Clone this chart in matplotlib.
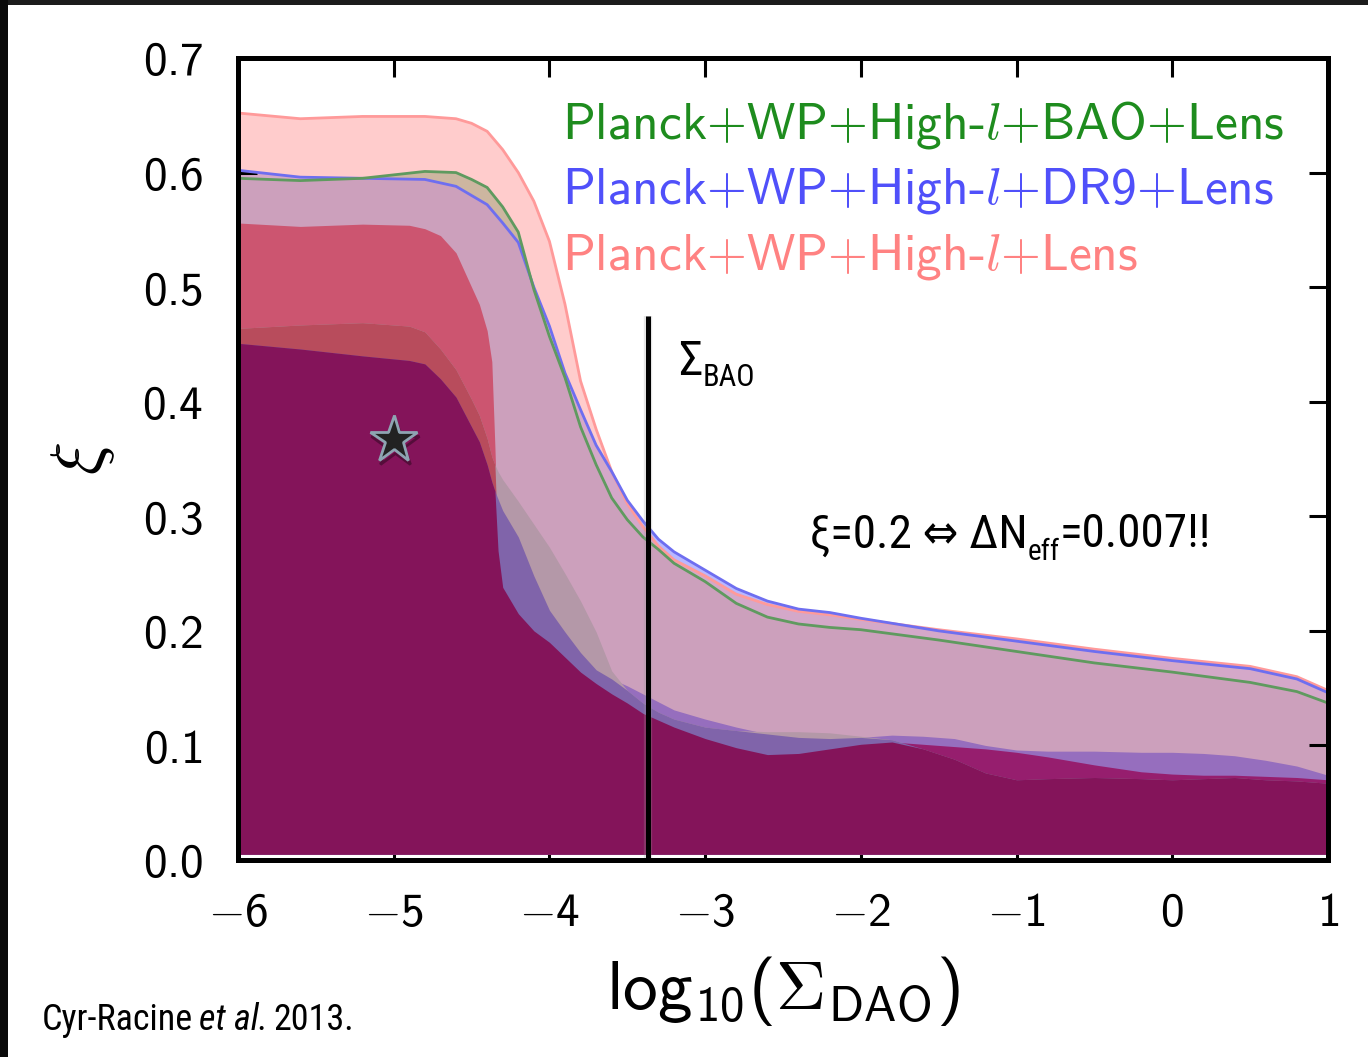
import itertools
import matplotlib
matplotlib.use("Agg")
import matplotlib.pyplot as plt
import matplotlib.patheffects as pe
from matplotlib.patches import Rectangle
from matplotlib.ticker import FuncFormatter, MultipleLocator
import numpy as np

plt.rcParams['mathtext.fontset'] = 'custom'
plt.rcParams['mathtext.rm'] = 'cmss10'
plt.rcParams['mathtext.sf'] = 'cmss10'
plt.rcParams['mathtext.it'] = 'cmmi10'
plt.rcParams['mathtext.bf'] = 'cmss10'
plt.rcParams['mathtext.default'] = 'sf'
plt.rcParams['mathtext.fallback'] = 'cm'

# outer (95%) contour upper edges
x95 = [-6.0, -5.6, -5.2, -4.8, -4.6, -4.5, -4.4, -4.3, -4.2, -4.1, -4.0, -3.9, -3.8, -3.7, -3.6, -3.5, -3.4,
       -3.3, -3.2, -3.0, -2.8, -2.6, -2.4, -2.2, -2.0, -1.5, -1.0, -0.5, 0.0, 0.5, 0.8, 1.0]
pink95 = [0.652, 0.647, 0.649, 0.649, 0.647, 0.643, 0.636, 0.620, 0.600, 0.575, 0.540, 0.485, 0.418, 0.376, 0.339,
          0.311, 0.291, 0.274, 0.262, 0.248, 0.232, 0.223, 0.217, 0.214, 0.210, 0.201, 0.193, 0.184, 0.176, 0.169,
          0.160, 0.148]
blue95 = [0.602, 0.596, 0.595, 0.594, 0.588, 0.580, 0.572, 0.556, 0.539, 0.500, 0.466, 0.425, 0.393, 0.362, 0.339,
          0.314, 0.296, 0.280, 0.269, 0.253, 0.237, 0.226, 0.219, 0.216, 0.211, 0.200, 0.191, 0.182, 0.174, 0.167,
          0.158, 0.146]
green95 = [0.595, 0.593, 0.595, 0.601, 0.600, 0.594, 0.587, 0.570, 0.548, 0.498, 0.457, 0.421, 0.378, 0.345, 0.316,
           0.297, 0.282, 0.271, 0.259, 0.243, 0.224, 0.212, 0.206, 0.203, 0.201, 0.192, 0.182, 0.172, 0.164, 0.155,
           0.147, 0.137]

# inner (68%) contour upper edges
x68 = [-6.0, -5.6, -5.2, -4.9, -4.8, -4.7, -4.6, -4.5, -4.45, -4.4, -4.37, -4.35, -4.33, -4.3, -4.2,
       -4.1, -4.0, -3.9, -3.8, -3.7, -3.6, -3.5, -3.4, -3.3, -3.2, -3.0, -2.8, -2.6, -2.4, -2.2,
       -2.0, -1.8, -1.6, -1.4, -1.2, -1.0, -0.8, -0.5, -0.2, 0.0, 0.2, 0.4, 0.6, 0.8, 1.0]
pink68 = [0.556, 0.553, 0.555, 0.554, 0.551, 0.545, 0.530, 0.500, 0.485, 0.462, 0.435, 0.360, 0.270, 0.238, 0.215,
          0.200, 0.190, 0.177, 0.164, 0.154, 0.145, 0.137, 0.128, 0.122, 0.116, 0.106, 0.098, 0.092, 0.093, 0.097,
          0.101, 0.103, 0.101, 0.099, 0.097, 0.094, 0.090, 0.083, 0.077, 0.075, 0.074, 0.074, 0.073, 0.072, 0.070]
green68 = [0.464, 0.467, 0.469, 0.466, 0.461, 0.446, 0.428, 0.402, 0.388, 0.368, 0.352, 0.345, 0.339, 0.332, 0.313,
           0.293, 0.273, 0.250, 0.226, 0.199, 0.165, 0.148, 0.137, 0.129, 0.123, 0.116, 0.113, 0.112, 0.112, 0.111,
           0.108, 0.105, 0.097, 0.088, 0.076, 0.070, 0.071, 0.072, 0.071, 0.070, 0.071, 0.072, 0.070, 0.069, 0.067]
blue68 = [0.451, 0.446, 0.440, 0.436, 0.433, 0.420, 0.404, 0.378, 0.365, 0.345, 0.330, 0.322, 0.315, 0.305, 0.282,
          0.248, 0.218, 0.199, 0.181, 0.166, 0.158, 0.152, 0.145, 0.138, 0.131, 0.123, 0.116, 0.110, 0.107, 0.106,
          0.107, 0.109, 0.108, 0.106, 0.100, 0.096, 0.095, 0.095, 0.094, 0.094, 0.093, 0.091, 0.087, 0.082, 0.074]

labels = ['Planck+WP+High-$\\mathit{l}$+BAO+Lens',
          'Planck+WP+High-$\\mathit{l}$+DR9+Lens',
          'Planck+WP+High-$\\mathit{l}$+Lens']
label_colors = ['#1e8c1e', '#5050fa', '#ff8282']
label_y = [0.630, 0.573, 0.515]

sigma_bao = -3.367
star = (-5.0, 0.367)

fig = plt.figure(figsize=(13.68, 10.57), dpi=100)
ax = fig.add_axes([238 / 1368, 1 - 860 / 1057, 1090 / 1368, 802 / 1057])


def venn_fill(x, curves, colors, base, y0=0.005):
    # every overlap of the three regions gets its own flat colour
    for k in (1, 2, 3):
        for combo in itertools.combinations(range(3), k):
            top = np.min([curves[i] for i in combo], axis=0)
            ax.fill_between(x, y0, top, color=colors[combo], lw=0, zorder=base + k * 0.1)


c95 = {(0,): '#ffcccc', (1,): '#b8b8ff', (2,): '#cce6cc',
       (0, 1): '#d4a8c9', (0, 2): '#cdb6a0', (1, 2): '#a0a0d0', (0, 1, 2): '#cca0bc'}
venn_fill(x95, [pink95, blue95, green95], c95, 1)

c68 = {(0,): '#cc5570', (1,): '#966ebe', (2,): '#b498a8',
       (0, 1): '#961e6e', (0, 2): '#b84c5c', (1, 2): '#8064aa', (0, 1, 2): '#84145a'}
venn_fill(x68, [pink68, blue68, green68], c68, 2)

ax.plot(x95, pink95, color='#ff9a9a', lw=2, zorder=3)
ax.plot(x95, blue95, color='#6e6ef0', lw=2, zorder=3)
ax.plot(x95, green95, color='#5f9a5f', lw=2, zorder=3)

ax.plot([sigma_bao, sigma_bao], [0, 0.475], color='k', lw=3.6, solid_capstyle='butt', zorder=4,
        path_effects=[pe.SimpleLineShadow(offset=(0, 0), shadow_color='#999999', alpha=0.25, linewidth=6),
                      pe.Normal()])

ax.plot(*star, marker='*', ms=36, mfc='#222222', mec='#8ea4b2', mew=2, zorder=5,
        path_effects=[pe.SimpleLineShadow(offset=(1, -3), shadow_color='k', alpha=0.35), pe.Normal()])

for lab, col, yy in zip(labels, label_colors, label_y):
    ax.text(-3.919, yy, lab, color=col, fontsize=37, family='cmss10', va='baseline', zorder=6)

narrow = dict(family=['Liberation Sans Narrow', 'Roboto Condensed', 'DejaVu Sans'], stretch='condensed')
ts = ax.text(-3.174, 0.423, 'Σ', fontsize=35, va='baseline', zorder=6, **narrow)
ax.annotate('BAO', xy=(1, 0.414), xycoords=(ts, 'data'), fontsize=22, va='baseline', zorder=6, **narrow)

t1 = ax.text(-2.326, 0.273, 'ξ=0.2 ⇔ ΔN', fontsize=34, va='baseline', zorder=6, **narrow)
t2 = ax.annotate('eff', xy=(1, 0.262), xycoords=(t1, 'data'), fontsize=21, va='baseline', zorder=6, **narrow)
ax.annotate('=0.007!!', xy=(1, 0.273), xycoords=(t2, 'data'), fontsize=34, va='baseline', zorder=6, **narrow)

ax.set_xlim(-6, 1)
ax.set_ylim(0, 0.7)
ax.xaxis.set_major_locator(MultipleLocator(1))
ax.yaxis.set_major_locator(MultipleLocator(0.1))
ax.xaxis.set_major_formatter(FuncFormatter(lambda v, p: r'$%d$' % round(v)))
ax.yaxis.set_major_formatter(FuncFormatter(lambda v, p: r'$%.1f$' % v))
ax.tick_params(direction='in', length=14, width=2.2, top=True, right=True, labelsize=34, pad=22)
ax.tick_params(axis='y', pad=25)
for s in ax.spines.values():
    s.set_linewidth(3.6)
    s.set_zorder(10)

ax.set_xlabel(r'$log_{10}(\Sigma_{DAO})$', fontsize=50, labelpad=13)
ax.set_ylabel(r'$\xi$', fontsize=50, labelpad=18)

yc = 1 - 1030 / 1057
c1 = fig.text(42 / 1368, yc, 'Cyr-Racine', fontsize=26, va='baseline', **narrow)
c2 = ax.annotate('et al.', xy=(1, yc), xycoords=(c1, 'figure fraction'), xytext=(4, 0),
                 textcoords='offset points', fontsize=26, style='italic', va='baseline',
                 annotation_clip=False, **narrow)
ax.annotate('2013.', xy=(1, yc), xycoords=(c2, 'figure fraction'), xytext=(4, 0),
            textcoords='offset points', fontsize=26, va='baseline', annotation_clip=False, **narrow)

fig.add_artist(Rectangle((0, 1 - 5 / 1057), 1, 5 / 1057, transform=fig.transFigure,
                         facecolor='#1c1c1c', edgecolor='none'))
fig.add_artist(Rectangle((0, 0), 8 / 1368, 1, transform=fig.transFigure,
                         facecolor='#0a0a0a', edgecolor='none'))

fig.savefig('out.png', dpi=100)
